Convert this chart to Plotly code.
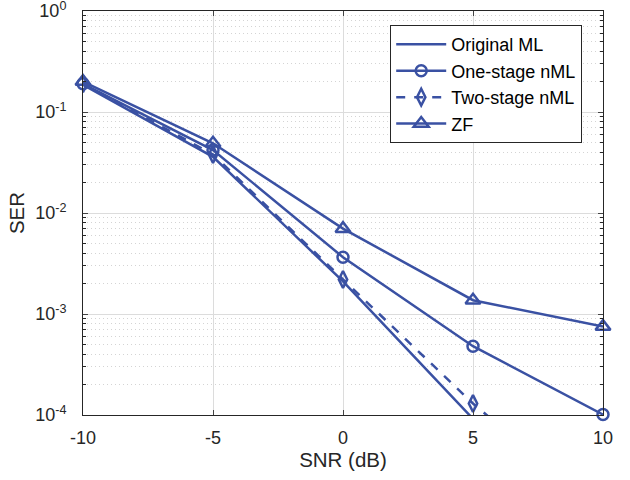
import plotly.graph_objects as go

snr = [-10, -5, 0, 5, 10]
original_ml = [0.186, 0.036, 0.0021, 0.00009, 0.000004]
one_stage = [0.19, 0.042, 0.00365, 0.00048, 0.000101]
two_stage = [0.19, 0.038, 0.0022, 0.00013, 0.0000105]
zf = [0.2, 0.049, 0.0070, 0.00137, 0.00075]
ytick_vals = [1e-4, 1e-3, 1e-2, 1e-1, 1e0]
ytick_text = ["10<sup>-4</sup>", "10<sup>-3</sup>", "10<sup>-2</sup>", "10<sup>-1</sup>", "10<sup>0</sup>"]
xtick_vals = [-10, -5, 0, 5, 10]
xtick_text = ["-10", "-5", "0", "5", "10"]
yminor_vals = [m * 10.0 ** e for e in range(-4, 0) for m in range(2, 10)]

color = "#3a51a3"
fig = go.Figure()
fig.add_trace(go.Scatter(x=snr, y=original_ml, mode="lines", name="Original ML",
                         line=dict(color=color, width=2.5)))
fig.add_trace(go.Scatter(x=snr, y=one_stage, mode="lines+markers", name="One-stage nML",
                         line=dict(color=color, width=2.5),
                         marker=dict(symbol="circle-open", size=11, color=color, line=dict(width=2.5)),
                         cliponaxis=False))
fig.add_trace(go.Scatter(x=snr, y=two_stage, mode="lines+markers", name="Two-stage nML",
                         line=dict(color=color, width=2.5, dash="dash"),
                         marker=dict(symbol="diamond-tall-open", size=12, color=color, line=dict(width=2.5))))
fig.add_trace(go.Scatter(x=snr, y=zf, mode="lines+markers", name="ZF",
                         line=dict(color=color, width=2.5),
                         marker=dict(symbol="triangle-up-open", size=13, color=color, line=dict(width=2.5)),
                         cliponaxis=False))

axis_color = "#262626"
fig.update_layout(
    width=630, height=480,
    margin=dict(l=83, r=27, t=11, b=65),
    paper_bgcolor="white", plot_bgcolor="white",
    font=dict(family="Liberation Sans, Arial, sans-serif", size=18, color=axis_color),
    showlegend=True,
    legend=dict(x=0.96, y=0.965, xanchor="right", yanchor="top",
                bgcolor="white", bordercolor=axis_color, borderwidth=1,
                font=dict(size=18, color="#000000"), itemwidth=50,
                tracegroupgap=0),
)
fig.update_xaxes(range=[-10, 10], tickvals=xtick_vals, ticktext=xtick_text,
                 ticks="inside", ticklen=5, ticklabelstandoff=6, automargin=False,
                 showline=True, linecolor=axis_color, linewidth=1, mirror="ticks",
                 showgrid=True, gridcolor="#dcdcdc", gridwidth=1, zeroline=False,
                 tickfont=dict(size=18, color=axis_color),
                 title=dict(text="SNR (dB)", font=dict(size=20.5, color=axis_color), standoff=6))
fig.update_yaxes(type="log", range=[-4, 0], tickvals=ytick_vals, ticktext=ytick_text,
                 ticks="inside", ticklen=5, ticklabelstandoff=12, ticklabeloverflow="allow",
                 automargin=False,
                 showline=True, linecolor=axis_color, linewidth=1, mirror="ticks",
                 showgrid=True, gridcolor="#dcdcdc", gridwidth=1, zeroline=False,
                 tickfont=dict(size=18, color=axis_color),
                 minor=dict(tickmode="array", tickvals=yminor_vals, ticks="inside", ticklen=3,
                            tickcolor=axis_color, showgrid=True,
                            gridcolor="#d4d4d4", griddash="1px,3px", gridwidth=1),
                 title=dict(text="SER", font=dict(size=20.5, color=axis_color), standoff=4))

fig.write_html("out.html")
